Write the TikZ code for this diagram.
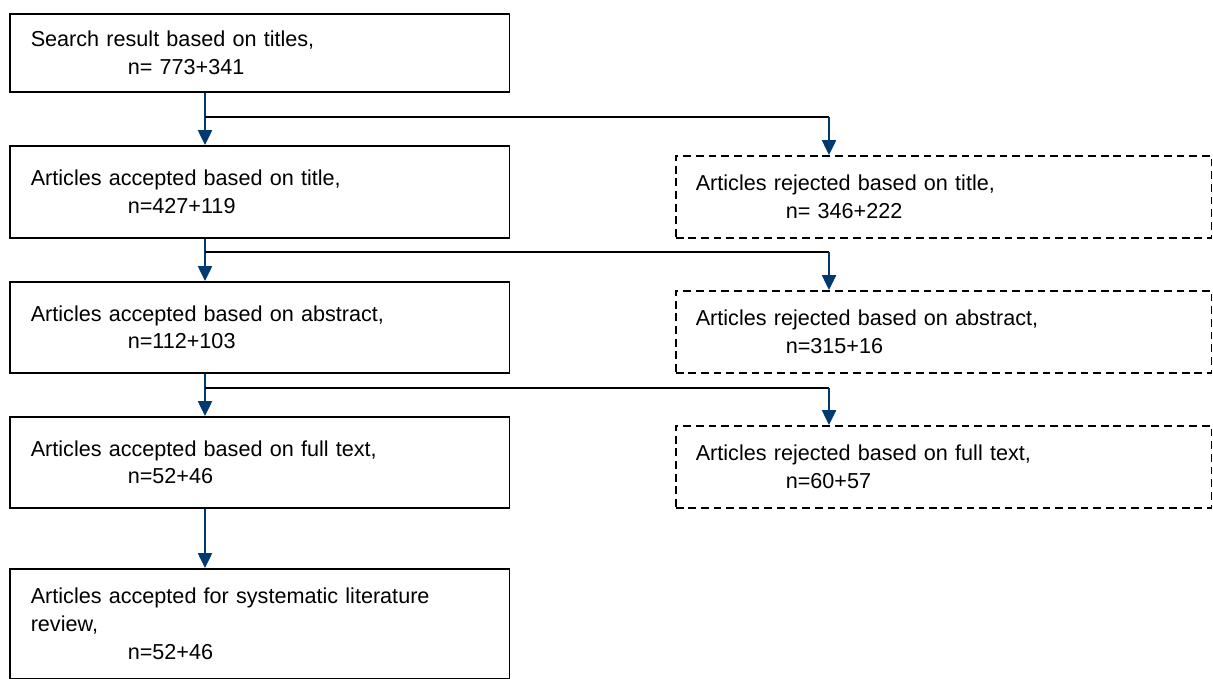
\documentclass[tikz,border=0pt]{standalone}
\usepackage{fontspec}
\setmainfont{Liberation Sans}
\usetikzlibrary{arrows.meta,positioning}
\definecolor{navy}{RGB}{0,58,112}

\tikzset{
  accbox/.style={draw, line width=0.9pt, anchor=north west, align=left,
    text width=9.16cm, inner xsep=0.42cm, inner ysep=0pt, minimum height=#1,
    font=\fontsize{12.3}{15.8}\selectfont},
  rejbox/.style={draw, line width=0.9pt, dash pattern=on 4.4pt off 2.8pt,
    anchor=north west, align=left, text width=9.92cm, inner xsep=0.4cm,
    inner ysep=0pt, minimum height=#1, font=\fontsize{12.3}{15.8}\selectfont},
  flow/.style={navy, line width=1.2pt, -{Triangle[width=8pt,length=8.5pt]}},
  hline/.style={line width=0.8pt}
}

\begin{document}
\begin{tikzpicture}[x=0.02cm, y=-0.02cm]
    \useasboundingbox (0,0) rectangle (1213,679);

    \node[accbox=1.56cm] (search) at (9,13) {Search result based on titles,\\\hspace*{1.94cm}n= 773+341};
    \node[accbox=1.84cm] (acctitle) at (9,145) {Articles accepted based on title,\\\hspace*{1.94cm}n=427+119};
    \node[accbox=1.82cm] (accabs) at (9,281) {Articles accepted based on abstract,\\\hspace*{1.94cm}n=112+103};
    \node[accbox=1.82cm] (accfull) at (9,416) {Articles accepted based on full text,\\\hspace*{1.94cm}n=52+46};
    \node[accbox=2.2cm] (accslr) at (9,568) {Articles accepted for systematic literature\\review,\\\hspace*{1.94cm}n=52+46};

    \node[rejbox=1.64cm] (rejtitle) at (675,155) {Articles rejected based on title,\\\hspace*{1.8cm}n= 346+222};
    \node[rejbox=1.64cm] (rejabs) at (675,290) {Articles rejected based on abstract,\\\hspace*{1.8cm}n=315+16};
    \node[rejbox=1.64cm] (rejfull) at (675,425) {Articles rejected based on full text,\\\hspace*{1.8cm}n=60+57};

    \coordinate (trunk) at (205,0);
    \draw[flow] (search.south -| trunk) -- (acctitle.north -| trunk);
    \draw[flow] (acctitle.south -| trunk) -- (accabs.north -| trunk);
    \draw[flow] (accabs.south -| trunk) -- (accfull.north -| trunk);
    \draw[flow] (accfull.south -| trunk) -- (accslr.north -| trunk);

    \coordinate (split1) at (205,117);
    \coordinate (turn1) at (829,117);
    \coordinate (split2) at (205,252);
    \coordinate (turn2) at (829,252);
    \coordinate (split3) at (205,388);
    \coordinate (turn3) at (829,388);

    \draw[hline] (split1) -- (turn1);
    \draw[flow] (turn1) -- (turn1 |- rejtitle.north);
    \draw[hline] (split2) -- (turn2);
    \draw[flow] (turn2) -- (turn2 |- rejabs.north);
    \draw[hline] (split3) -- (turn3);
    \draw[flow] (turn3) -- (turn3 |- rejfull.north);
\end{tikzpicture}
\end{document}
